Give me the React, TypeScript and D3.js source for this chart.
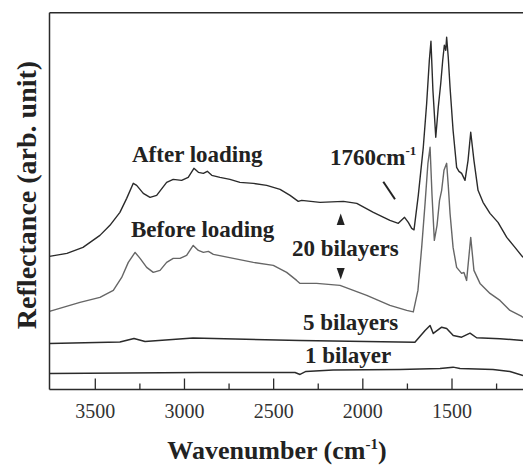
import React from "react";
import * as d3 from "d3";

// Wavenumber (cm-1) and reflectance (arb. unit)
const afterWn = [3757,3659,3569,3474,3418,3362,3324,3287,3268,3231,3193,3156,3100,3063,3016,2979,2947,2922,2894,2872,2847,2801,2745,2689,2614,2539,2464,2408,2362,2343,2240,2109,2034,1941,1848,1801,1766,1745,1726,1713,1689,1661,1642,1627,1618,1607,1591,1577,1563,1552,1543,1535,1530,1521,1511,1494,1474,1461,1446,1427,1410,1395,1377,1354,1326,1287,1242,1193,1147,1102];
const afterVal = [133,136,142,154,164,177,191,206,204,196,192,194,207,210,209,212,221,217,216,218,214,212,210,207,206,204,200,194,188,189,187,188,186,177,169,166,172,167,161,159.5,194,242,286,329,348,299,252,282,306,329,344,339,352,332,302,259,222,218,216,209,229,257,229,199,187,176,167,152,142,132];

const beforeWn = [3757,3586,3474,3399,3352,3315,3277,3249,3212,3175,3137,3100,3063,3025,2988,2951,2922,2894,2866,2838,2726,2614,2502,2427,2371,2352,2259,2128,1978,1848,1754,1717,1691,1670,1651,1635,1623,1612,1599,1584,1570,1558,1545,1530,1521,1511,1494,1474,1446,1433,1418,1395,1377,1343,1287,1231,1175,1109,1102];
const beforeVal = [78,87,92,99,112,127,137,131,122,117,119,127,131,131,134,144,139,137,138,135,131,127,124,117,109,106,106,104,94,84,79,77.5,99,142,186,226,242,194,149,164,189,199,219,226,204,176,142,122,116,117,109,152,119,106,96,89,79,73,72];

const fiveWn = [3757,3362,3283,3221,2952,2352,1708,1651,1623,1605,1558,1530,1493,1446,1399,1362,1231,1102];
const fiveVal = [46,47.5,51,48,51.5,49,47.3,59,64,56,62.3,61,54,52.3,56.3,51.7,50.7,49];

const oneWn = [3757,2913,2380,2352,2319,2167,1792,1567,1494,1455,1270,1175,1102];
const oneVal = [16,17,17,15,18,19.5,20,21,22.3,21,20,18,14];

const majorTicks = [3500, 3000, 2500, 2000, 1500];
const minorTicks = [3250, 2750, 2250, 1750, 1250];

const W = 523;
const H = 466;
const left = 49.5;
const top = 12.7;
const bottom = 389.5;

export default function App() {
  // 3500 -> 95.3 px, 1500 -> 452 px
  const x = d3.scaleLinear().domain([3500, 1500]).range([95.3, 452]);
  const y = d3.scaleLinear().domain([0, 376.5]).range([bottom, top]);

  const mk = (wn: number[], v: number[]) =>
    d3.line<number>()
      .x((_, i) => x(wn[i]))
      .y((d) => y(d))
      .curve(d3.curveLinear)(v) as string;

  const serif = "'Liberation Serif', 'Times New Roman', serif";
  const ink = "#2b2b2b";

  return (
    <svg width={W} height={H} style={{ position: "absolute", left: 0, top: 0, background: "#fff" }}>
      <defs>
        <clipPath id="plot">
          <rect x={left} y={top} width={W - left} height={bottom - top} />
        </clipPath>
      </defs>
      <rect x={0} y={0} width={W} height={H} fill="#fff" />

      <g clipPath="url(#plot)" fill="none" strokeLinejoin="round">
        <path d={mk(oneWn, oneVal)} stroke={ink} strokeWidth={1.4} />
        <path d={mk(fiveWn, fiveVal)} stroke={ink} strokeWidth={1.5} />
        <path d={mk(beforeWn, beforeVal)} stroke="#666" strokeWidth={1.4} />
        <path d={mk(afterWn, afterVal)} stroke={ink} strokeWidth={1.4} />
      </g>

      {/* frame */}
      <line x1={left} x2={W} y1={top} y2={top} stroke={ink} strokeWidth={1.5} />
      <line x1={left} x2={left} y1={top} y2={bottom} stroke={ink} strokeWidth={1.5} />
      <line x1={left} x2={W} y1={bottom} y2={bottom} stroke={ink} strokeWidth={1.5} />

      {majorTicks.map((t) => (
        <g key={t}>
          <line x1={x(t)} x2={x(t)} y1={bottom} y2={bottom - 11} stroke={ink} strokeWidth={1.3} />
          <text x={x(t)} y={418} textAnchor="middle" fontFamily={serif} fontSize={20} fill="#333">
            {t}
          </text>
        </g>
      ))}
      {minorTicks.map((t) => (
        <line key={t} x1={x(t)} x2={x(t)} y1={bottom} y2={bottom - 6} stroke={ink} strokeWidth={1.3} />
      ))}

      {/* axis titles */}
      <text x={277} y={459} textAnchor="middle" fontFamily={serif} fontSize={26} fontWeight="bold" fill="#222">
        Wavenumber (cm<tspan fontSize={15} dy={-10}>-1</tspan><tspan dy={10}>)</tspan>
      </text>
      <text
        transform={`translate(36,195) rotate(-90)`}
        textAnchor="middle"
        fontFamily={serif}
        fontSize={28}
        fontWeight="bold"
        fill="#222"
      >
        Reflectance (arb. unit)
      </text>

      {/* annotations */}
      <g fontFamily={serif} fontWeight="bold" fontSize={23} fill="#222">
        <text x={132} y={162}>After loading</text>
        <text x={131} y={237}>Before loading</text>
        <text x={330} y={165}>
          1760cm<tspan fontSize={13} dy={-10}>-1</tspan>
        </text>
        <text x={292} y={256}>20 bilayers</text>
        <text x={303} y={330}>5 bilayers</text>
        <text x={305} y={363}>1 bilayer</text>
      </g>

      {/* arrowheads */}
      <path d="M340.7,213.5 L344.7,225 L336.7,225 Z" fill="#222" />
      <path d="M336.7,268 L344.7,268 L340.7,279.5 Z" fill="#222" />
      <line x1={383.3} y1={181.7} x2={395} y2={199.3} stroke="#222" strokeWidth={2} />
    </svg>
  );
}
